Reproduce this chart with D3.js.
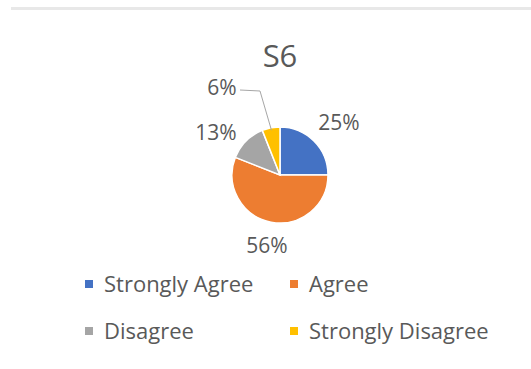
<!DOCTYPE html>
<html lang="en">
<head>
    <meta charset="UTF-8">
    <title>S6</title>
    <script src="https://cdnjs.cloudflare.com/ajax/libs/d3/7.8.5/d3.min.js"></script>
</head>
<style>
    body { margin: 0; background: #fff; }
    text { font-family: "Open Sans", sans-serif; fill: #595959; }
</style>
<body>
<div id="output"></div>
<script>

    // data
    var categories = ["Strongly Agree", "Agree", "Disagree", "Strongly Disagree"];
    var values = [25, 56, 13, 6];
    var colors = ["#4472C4", "#ED7D31", "#A5A5A5", "#FFC000"];
    var title = "S6";

    var width = 531, height = 369;
    var cx = 280, cy = 175, radius = 48;

    var svg = d3.select("#output").append("svg")
        .attr("width", width)
        .attr("height", height);

    // thin grey rule along the top
    svg.append("rect")
        .attr("x", 11)
        .attr("y", 7)
        .attr("width", width - 11)
        .attr("height", 3)
        .style("fill", "#e8e8e8");

    svg.append("text")
        .attr("x", cx)
        .attr("y", 67)
        .attr("text-anchor", "middle")
        .style("font-size", "31px")
        .text(title);

    var data = categories.map(function(c, i) {
        return {name: c, value: values[i], color: colors[i]};
    });

    var pie = d3.pie()
        .sort(null)
        .value(function(d) { return d.value; });

    var arc = d3.arc()
        .innerRadius(0)
        .outerRadius(radius);

    var arcs = pie(data);

    var g = svg.append("g")
        .attr("transform", "translate(" + cx + "," + cy + ")");

    g.selectAll("path")
        .data(arcs)
        .enter()
        .append("path")
        .attr("d", arc)
        .style("fill", function(d) { return d.data.color; })
        .style("stroke", "#fff")
        .style("stroke-width", 1.5);

    // label positions: offsets from the pie centre
    var labelPos = [[59, -45], [-13, 78], [-64, -35], [-58, -80]];

    g.selectAll("text.lbl")
        .data(arcs)
        .enter()
        .append("text")
        .attr("class", "lbl")
        .attr("x", function(d, i) { return labelPos[i][0]; })
        .attr("y", function(d, i) { return labelPos[i][1]; })
        .attr("text-anchor", "middle")
        .style("font-size", "21px")
        .text(function(d) {
            return Math.round(d.value / d3.sum(values) * 100) + "%";
        });

    // leader line for the small slice
    var small = arcs[3];
    var mid = (small.startAngle + small.endAngle) / 2;
    var ex = Math.sin(mid) * radius * 0.95, ey = -Math.cos(mid) * radius * 0.95;
    g.append("polyline")
        .attr("points", [[-40, -85], [-20, -84], [ex, ey]].map(function(p) { return p.join(","); }).join(" "))
        .style("fill", "none")
        .style("stroke", "#a6a6a6")
        .style("stroke-width", 1);

    // legend, two columns
    var legend = svg.selectAll("g.legend")
        .data(data)
        .enter()
        .append("g")
        .attr("class", "legend")
        .attr("transform", function(d, i) {
            return "translate(" + (i % 2 == 0 ? 85 : 290) + "," + (284 + Math.floor(i / 2) * 47) + ")";
        });

    legend.append("rect")
        .attr("x", 0)
        .attr("y", -4)
        .attr("width", 8)
        .attr("height", 8)
        .style("fill", function(d) { return d.color; });

    legend.append("text")
        .attr("x", 19)
        .attr("y", 8)
        .style("font-size", "22px")
        .text(function(d) { return d.name; });

</script>
</body>
</html>
